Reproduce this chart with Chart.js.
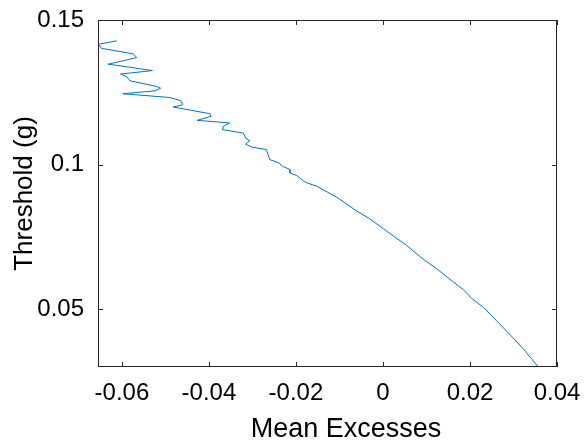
<!DOCTYPE html>
<html>
<head>
<meta charset="utf-8">
<script src="https://cdn.jsdelivr.net/npm/chart.js@4"></script>
<style>
  html, body { margin: 0; padding: 0; background: #fff; }
  #wrap { width: 584px; height: 445px; }
</style>
</head>
<body>
<div id="wrap"><canvas id="meChart" width="584" height="445"></canvas></div>
<script>
// mean excess (x) vs threshold (y)
const meanExcess = [
  -0.0612, -0.0654, -0.0647, -0.0574, -0.0566, -0.0632, -0.0620, -0.0530,
  -0.0603, -0.0589, -0.0582, -0.0520, -0.0511, -0.0524, -0.0598, -0.0490,
  -0.0465, -0.0460, -0.0482, -0.0398, -0.0395, -0.0427, -0.0353, -0.0367,
  -0.0369, -0.0321, -0.0315, -0.0306, -0.0316, -0.0303, -0.0268, -0.0260,
  -0.0239, -0.0231, -0.0215, -0.0214, -0.0198, -0.0179, -0.0152, -0.0106,
  -0.0060, -0.0034, 0.0001, 0.0024, 0.0054, 0.0093, 0.0120, 0.0154,
  0.0185, 0.0204, 0.0231, 0.0261, 0.0300, 0.0323, 0.0357
];
const threshold = [
  0.1428, 0.1416, 0.1402, 0.1383, 0.1370, 0.1347, 0.1345, 0.1325,
  0.1313, 0.1304, 0.1290, 0.1270, 0.1264, 0.1255, 0.1245, 0.1232,
  0.1221, 0.1207, 0.1199, 0.1176, 0.1167, 0.1153, 0.1144, 0.1132,
  0.1121, 0.1109, 0.1090, 0.1083, 0.1071, 0.1061, 0.1052, 0.1017,
  0.1006, 0.0994, 0.0984, 0.0971, 0.0962, 0.0939, 0.0925, 0.0887,
  0.0839, 0.0816, 0.0778, 0.0753, 0.0721, 0.0672, 0.0644, 0.0603,
  0.0567, 0.0537, 0.0506, 0.0460, 0.0399, 0.0362, 0.0300
];
const xTicks = [-0.06, -0.04, -0.02, 0, 0.02, 0.04];
const yTicks = [0.05, 0.1, 0.15];
const xTitle = 'Mean Excesses';

const axisColor = '#262626';
const fontFam = '"Liberation Sans", Arial, sans-serif';

const points = meanExcess.map((x, i) => ({ x: x, y: threshold[i] }));

// matlab style box + inward ticks, and the x label (sits a bit right of centre)
const boxPlugin = {
  id: 'matBox',
  afterDraw(chart) {
    const { ctx, chartArea: a, scales } = chart;
    ctx.save();
    ctx.strokeStyle = axisColor;
    ctx.lineWidth = 1;
    ctx.strokeRect(a.left + 0.5, a.top + 0.5, a.right - a.left - 1, a.bottom - a.top - 1);
    const len = 5;
    ctx.beginPath();
    xTicks.forEach(v => {
      const px = Math.round(scales.x.getPixelForValue(v)) + 0.5;
      ctx.moveTo(px, a.bottom); ctx.lineTo(px, a.bottom - len);
      ctx.moveTo(px, a.top); ctx.lineTo(px, a.top + len);
    });
    yTicks.forEach(v => {
      const py = Math.round(scales.y.getPixelForValue(v)) + 0.5;
      ctx.moveTo(a.left, py); ctx.lineTo(a.left + len, py);
      ctx.moveTo(a.right, py); ctx.lineTo(a.right - len, py);
    });
    ctx.stroke();

    ctx.fillStyle = '#000';
    ctx.font = '27px ' + fontFam;
    ctx.textAlign = 'center';
    ctx.textBaseline = 'middle';
    ctx.fillText(xTitle, 346, 430);
    ctx.restore();
  }
};

new Chart(document.getElementById('meChart').getContext('2d'), {
  type: 'line',
  data: {
    datasets: [{
      data: points,
      borderColor: '#0072BD',
      borderWidth: 1,
      pointRadius: 0,
      tension: 0,
      fill: false
    }]
  },
  options: {
    responsive: false,
    animation: false,
    layout: { padding: { top: 20, right: 27, left: 0, bottom: 0 } },
    plugins: { legend: { display: false }, tooltip: { enabled: false } },
    scales: {
      x: {
        type: 'linear',
        min: -0.0655,
        max: 0.04,
        afterBuildTicks: s => { s.ticks = xTicks.map(v => ({ value: v })); },
        afterFit: s => { s.height = 78; s.paddingLeft = 0; s.paddingRight = 0; },
        grid: { display: false, drawTicks: false },
        border: { display: false },
        ticks: {
          color: '#000',
          padding: 12,
          maxRotation: 0,
          font: { family: fontFam, size: 24 },
          callback: v => String(v)
        },
        title: { display: false }
      },
      y: {
        type: 'linear',
        min: 0.03,
        max: 0.15,
        afterBuildTicks: s => { s.ticks = yTicks.map(v => ({ value: v })); },
        afterFit: s => { s.width = 98; s.paddingTop = 0; s.paddingBottom = 0; },
        grid: { display: false, drawTicks: false },
        border: { display: false },
        ticks: {
          color: '#000',
          padding: 14,
          font: { family: fontFam, size: 24 },
          callback: v => String(v)
        },
        title: {
          display: true,
          text: 'Threshold (g)',
          color: '#000',
          padding: { top: 9, bottom: 0 },
          font: { family: fontFam, size: 26 }
        }
      }
    }
  },
  plugins: [boxPlugin]
});
</script>
</body>
</html>
